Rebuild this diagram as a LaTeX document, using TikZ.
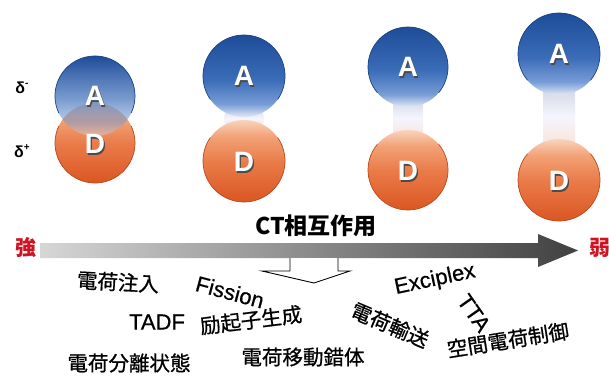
\documentclass[tikz,border=0pt]{standalone}
\usepackage{fontspec}
\usepackage{graphicx}
\setmainfont{Liberation Sans}
\newfontfamily\jp[FakeBold=0.8]{Noto Sans CJK JP}
\newfontfamily\jpb{Noto Sans CJK JP}
\newfontfamily\latm[FakeBold=0.6]{Liberation Sans}
\usetikzlibrary{fadings}
\definecolor{adark}{RGB}{30,76,152}
\definecolor{amid}{RGB}{58,108,184}
\definecolor{alow}{RGB}{120,156,214}
\definecolor{alight}{RGB}{226,233,246}
\definecolor{dlight}{RGB}{248,212,190}
\definecolor{dlow}{RGB}{242,162,118}
\definecolor{dmid}{RGB}{234,124,74}
\definecolor{ddark}{RGB}{218,86,34}
\definecolor{redtxt}{RGB}{208,18,34}
\pgfdeclareverticalshading{ashade}{100bp}{color(0bp)=(alight); color(25bp)=(alight); color(33bp)=(alow); color(48bp)=(amid); color(75bp)=(adark); color(100bp)=(adark)}
\pgfdeclareverticalshading{dshade}{100bp}{color(0bp)=(ddark); color(25bp)=(ddark); color(50bp)=(dmid); color(65bp)=(dlow); color(75bp)=(dlight); color(100bp)=(dlight)}
\pgfdeclareverticalshading{neckshade}{100bp}{color(0bp)=(dlight); color(25bp)=(dlight!70!white); color(50bp)=(white!96!blue); color(75bp)=(alight!80!gray); color(100bp)=(alight!80!gray)}
\tikzfading[name=afade, top color=transparent!0, middle color=transparent!0, bottom color=transparent!60]
\tikzset{
  acirc/.style={shading=ashade},
  dcirc/.style={shading=dshade},
  aline/.style={draw=adark!85!black, line width=0.7pt},
  dline/.style={draw=ddark!85!black, line width=0.7pt},
  neckfill/.style={shading=neckshade},
  lettershadow/.style={font=\fontsize{28}{28}\selectfont\bfseries, text=black!70, inner sep=0},
  letter/.style={font=\fontsize{28}{28}\selectfont\bfseries, text=white, inner sep=0},
  lbl/.style={font=\jp\fontsize{20.5}{20.5}\selectfont, inner sep=0},
  lat/.style={font=\latm\fontsize{22}{22}\selectfont, inner sep=0},
  deltalbl/.style={font=\fontsize{16}{16}\selectfont\bfseries, inner sep=0},
  side/.style={font=\jpb\bfseries\fontsize{21}{21}\selectfont, text=redtxt, inner sep=0},
  ttl/.style={font=\jpb\bfseries\fontsize{23}{23}\selectfont, inner sep=0},
}
\begin{document}
\begin{tikzpicture}[x=1pt,y=1pt]
\useasboundingbox (0,0) rectangle (609,376);
\clip (0,0) rectangle (609,376);
\fill[white] (0,0) rectangle (609,376);

% ---- pair 1 (overlapping)
\shade[dcirc] (95,233) circle (40);
\shade[acirc, path fading=afade] (95,280) circle (40);
\draw[aline] (95,280) ++(205:40) arc[start angle=205, end angle=-25, radius=40];
\draw[dline] (95,233) ++(155:40) arc[start angle=155, end angle=385, radius=40];

% ---- necks
\shade[neckfill] (229,272) -- (259,272) to[bend left=35] (259,243) -- (229,243) to[bend left=35] (229,272) -- cycle;
\shade[neckfill] (393,280) rectangle (423,236);
\shade[neckfill] (543,292) rectangle (575,226);

% ---- pair 2
\shade[acirc] (244,300) circle (41);
\shade[dcirc] (244,215) circle (41);
\draw[aline] (244,300) ++(215:41) arc[start angle=215, end angle=-35, radius=41];
\draw[dline] (244,215) ++(145:41) arc[start angle=145, end angle=395, radius=41];

% ---- pair 3
\shade[acirc] (408,309) circle (40);
\shade[dcirc] (408,206) circle (40);
\draw[aline] (408,309) ++(220:40) arc[start angle=220, end angle=-40, radius=40];
\draw[dline] (408,206) ++(140:40) arc[start angle=140, end angle=400, radius=40];

% ---- pair 4
\shade[acirc] (559,322) circle (41);
\shade[dcirc] (559,196) circle (41);
\draw[aline] (559,322) ++(220:41) arc[start angle=220, end angle=-40, radius=41];
\draw[dline] (559,196) ++(140:41) arc[start angle=140, end angle=400, radius=41];

% ---- letters
\foreach \n/\x/\y/\t in {a1/95/280/A, d1/95/232/D, a2/244/300/A, d2/244/214/D, a3/408/309/A, d3/408/205/D, a4/559/322/A, d4/559/195/D}{
  \node[lettershadow] (\n s) at (\x+1.2,\y-1.4) {\t};
  \node[letter] (\n) at (\x,\y) {\t};
}

% ---- delta labels
\node[deltalbl] (dm) at (22,288) {δ\raisebox{0.8ex}{\fontsize{10}{10}\selectfont -}};
\node[deltalbl] (dp) at (22,225) {δ\raisebox{0.8ex}{\fontsize{10}{10}\selectfont +}};

% ---- main arrow
\shade[left color=black!16, right color=black!75]
  (40,118) -- (538,118) -- (538,109) -- (578,125.5) -- (538,142) -- (538,133) -- (40,133) -- cycle;

% ---- open down arrow
\filldraw[fill=white, draw=black, line width=0.9pt, line join=miter]
  (290,118) -- (290,105) -- (262,105) -- (314,93) -- (350,105) -- (338,105) -- (338,118);

% ---- side labels
\node[side] (strong) at (26,128) {強};
\node[side] (weak) at (600,128) {弱};
\node[ttl] (ct) at (316,150) {CT相互作用};

% ---- labels
\node[lbl] (l1) at (118,94) {\rotatebox{-3}{電荷注入}};
\node[lat] (l2) at (230,84) {\rotatebox{-15}{Fission}};
\node[lat] (l3) at (157,54) {TADF};
\node[lbl] (l4) at (251,56) {\rotatebox{7}{励起子生成}};
\node[lbl] (l5) at (129,13) {電荷分離状態};
\node[lbl] (l6) at (303,19) {電荷移動錯体};
\node[lat] (l7) at (435,96) {\rotatebox{12}{Exciplex}};
\node[lat] (l8) at (474,63) {\rotatebox{-55}{TTA}};
\node[lbl] (l9) at (390,51) {\rotatebox{-23}{電荷輸送}};
\node[lbl] (l10) at (508,36) {\rotatebox{9}{空間電荷制御}};
\end{tikzpicture}
\end{document}
